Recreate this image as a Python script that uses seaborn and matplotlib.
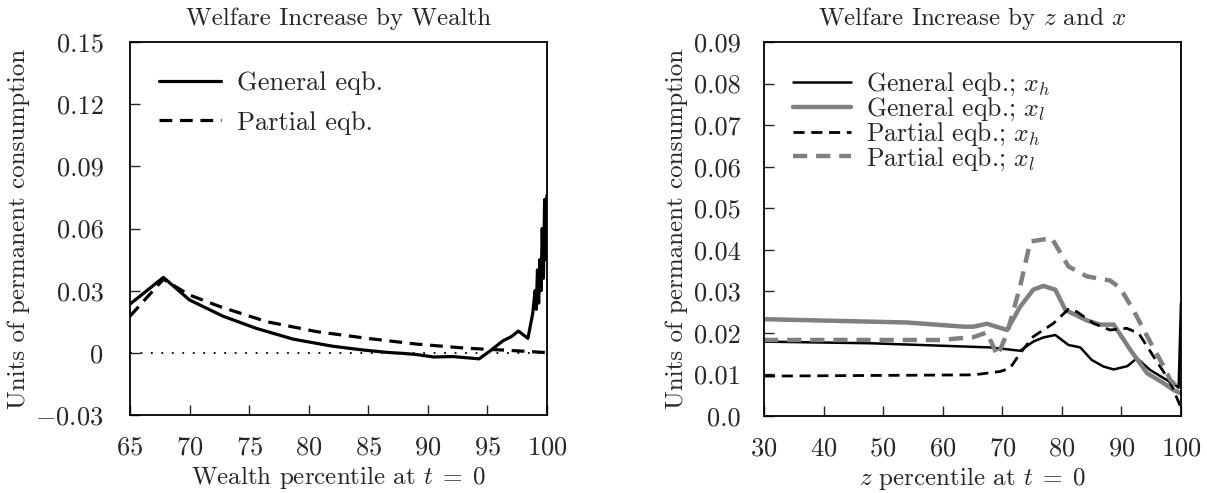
import numpy as np
import pandas as pd
import matplotlib
matplotlib.use("Agg")
import matplotlib.pyplot as plt
import seaborn as sns

# ---- Left panel: welfare increase by wealth percentile ----
wealth_pct_ge = [65, 67.8, 70.0, 72.8, 75.6, 78.7, 82.0, 84.5, 86.6, 88.0, 89.0, 90.5,
                 92.1, 94.3, 95.2, 96.3, 97.0, 97.6, 98.4, 98.8, 99.0, 99.1, 99.2, 99.3,
                 99.4, 99.5, 99.6, 99.7, 99.8, 99.9, 100.0]
welfare_ge = [0.0235, 0.0364, 0.0255, 0.0177, 0.0118, 0.0066, 0.0032, 0.0014, 0.0002, -0.0003,
              -0.0008, -0.0020, -0.0018, -0.0029, 0.0008, 0.0058, 0.0078, 0.0105, 0.0070, 0.0190,
              0.0300, 0.0210, 0.0400, 0.0240, 0.0450, 0.0300, 0.0600, 0.0360, 0.0740, 0.0450, 0.0760]

wealth_pct_pe = [65, 67.8, 70.0, 72.6, 76.5, 80.7, 84.9, 89.1, 93.3, 96.1, 98.0, 100.0]
welfare_pe = [0.0177, 0.0355, 0.0279, 0.0222, 0.0150, 0.0102, 0.0070, 0.0042, 0.0022,
              0.0014, 0.0008, 0.0001]

# ---- Right panel: welfare increase by z and x ----
z_ge_h = [30, 48, 68, 73, 75.2, 76.9, 78.9, 81.1, 83.1, 85.0, 87.0, 88.7, 91.0, 92.6,
          94.8, 97.1, 98.8, 99.6, 100]
welfare_ge_h = [0.0179, 0.0175, 0.0165, 0.0157, 0.0179, 0.0189, 0.0195, 0.0171, 0.0165,
                0.0135, 0.0119, 0.0112, 0.0120, 0.0139, 0.0111, 0.0091, 0.0077, 0.0068, 0.0272]

z_ge_l = [30, 54, 63.5, 65.2, 67.4, 70.8, 73.0, 75.2, 76.9, 78.9, 80.6, 84.2, 86.4, 88.7,
          91.5, 94.3, 97.1, 98.8, 100]
welfare_ge_l = [0.0233, 0.0225, 0.0215, 0.0215, 0.0222, 0.0207, 0.0263, 0.0304, 0.0313,
                0.0304, 0.0255, 0.0230, 0.0220, 0.0220, 0.0159, 0.0103, 0.0079, 0.0062, 0.0055]

z_pe_h = [30, 65.2, 69.6, 71.3, 73.0, 75.2, 78.6, 81.1, 82.5, 85.3, 88.1, 90.9, 92.9,
          95.4, 97.6, 98.5, 100]
welfare_pe_h = [0.0096, 0.0099, 0.0107, 0.0115, 0.0151, 0.0191, 0.0223, 0.0257, 0.0251,
                0.0223, 0.0207, 0.0211, 0.0199, 0.0143, 0.0095, 0.0071, 0.0020]

z_pe_l = [30, 59.6, 65.2, 67.4, 69.2, 70.8, 73.0, 74.7, 78.3, 81.1, 84.2, 88.1, 89.8,
          92.0, 94.8, 97.1, 98.2, 100]
welfare_pe_l = [0.0183, 0.0183, 0.0190, 0.0201, 0.0145, 0.0199, 0.0312, 0.0420, 0.0428,
                0.0360, 0.0336, 0.0326, 0.0308, 0.0255, 0.0179, 0.0119, 0.0087, 0.0060]

left_xticks = [65, 70, 75, 80, 85, 90, 95, 100]
left_yticks = [-0.03, 0, 0.03, 0.06, 0.09, 0.12, 0.15]
left_yticklabels = ["$-0.03$", "0", "0.03", "0.06", "0.09", "0.12", "0.15"]
right_xticks = [30, 40, 50, 60, 70, 80, 90, 100]
right_yticks = [0.0, 0.01, 0.02, 0.03, 0.04, 0.05, 0.06, 0.07, 0.08, 0.09]
right_yticklabels = ["0.0", "0.01", "0.02", "0.03", "0.04", "0.05", "0.06", "0.07", "0.08", "0.09"]

sns.set_style("ticks")
plt.rcParams.update({
    "font.family": ["cmr10", "DejaVu Serif"],
    "mathtext.fontset": "cm",
    "axes.formatter.use_mathtext": True,
    "font.size": 18,
    "xtick.labelsize": 19,
    "ytick.labelsize": 19,
    "xtick.direction": "in",
    "ytick.direction": "in",
    "xtick.major.size": 7,
    "ytick.major.size": 7,
    "axes.linewidth": 1.3,
    "axes.edgecolor": "black",
})

fig = plt.figure(figsize=(12.07, 4.93), dpi=100)
ax1 = fig.add_axes([130 / 1207, 78 / 493, 417 / 1207, 373 / 493])
ax2 = fig.add_axes([764 / 1207, 77 / 493, 417 / 1207, 374 / 493])

# left panel
ax1.plot([65, 100], [0, 0], color="black", lw=1.3, linestyle=(0, (1, 4.8)))
sns.lineplot(x=wealth_pct_ge, y=welfare_ge, ax=ax1, color="black", lw=2.3,
             estimator=None, sort=False, label="General eqb.")
sns.lineplot(x=wealth_pct_pe, y=welfare_pe, ax=ax1, color="black", lw=2.3,
             linestyle=(0, (4, 2.4)), estimator=None, sort=False, label="Partial eqb.")
ax1.set_xlim(65, 100)
ax1.set_ylim(-0.03, 0.15)
ax1.set_xticks(left_xticks)
ax1.set_yticks(left_yticks)
ax1.set_yticklabels(left_yticklabels)
ax1.set_title("Welfare Increase by Wealth", fontsize=18, pad=12)
ax1.set_xlabel("Wealth percentile at $t\\;=\\;0$", labelpad=3)
ax1.set_ylabel("Units of permanent consumption", labelpad=4)
ax1.tick_params(axis="y", pad=19)
ax1.legend(loc="upper left", bbox_to_anchor=(0.013, 0.985), frameon=False,
           handlelength=2.35, handletextpad=0.6, labelspacing=0.6, fontsize=19)

# right panel
sns.lineplot(x=z_ge_h, y=welfare_ge_h, ax=ax2, color="black", lw=1.8,
             estimator=None, sort=False, label="General eqb.; $x_h$")
sns.lineplot(x=z_ge_l, y=welfare_ge_l, ax=ax2, color="grey", lw=3.2,
             estimator=None, sort=False, label="General eqb.; $x_l$")
sns.lineplot(x=z_pe_h, y=welfare_pe_h, ax=ax2, color="black", lw=2.0,
             linestyle=(0, (4, 2.4)), estimator=None, sort=False, label="Partial eqb.; $x_h$")
sns.lineplot(x=z_pe_l, y=welfare_pe_l, ax=ax2, color="grey", lw=3.2,
             linestyle=(0, (3.2, 2.0)), estimator=None, sort=False, label="Partial eqb.; $x_l$")
ax2.set_xlim(30, 100)
ax2.set_ylim(0, 0.09)
ax2.set_xticks(right_xticks)
ax2.set_yticks(right_yticks)
ax2.set_yticklabels(right_yticklabels)
ax2.set_title("Welfare Increase by $z$ and $x$", fontsize=18, pad=12)
ax2.set_xlabel("$z$ percentile at $t\\;=\\;0$", labelpad=3)
ax2.set_ylabel("Units of permanent consumption", labelpad=4)
ax2.tick_params(axis="y", pad=17)
ax2.legend(loc="upper left", bbox_to_anchor=(0.014, 0.985), frameon=False,
           handlelength=2.25, handletextpad=0.6, labelspacing=-0.1, fontsize=18.5)

for ax in (ax1, ax2):
    ax.tick_params(top=False, right=False, width=1.0)
    ax.tick_params(axis="x", pad=15)
    for side in ("top", "right", "left", "bottom"):
        ax.spines[side].set_visible(True)

fig.savefig("out.png", dpi=100)
